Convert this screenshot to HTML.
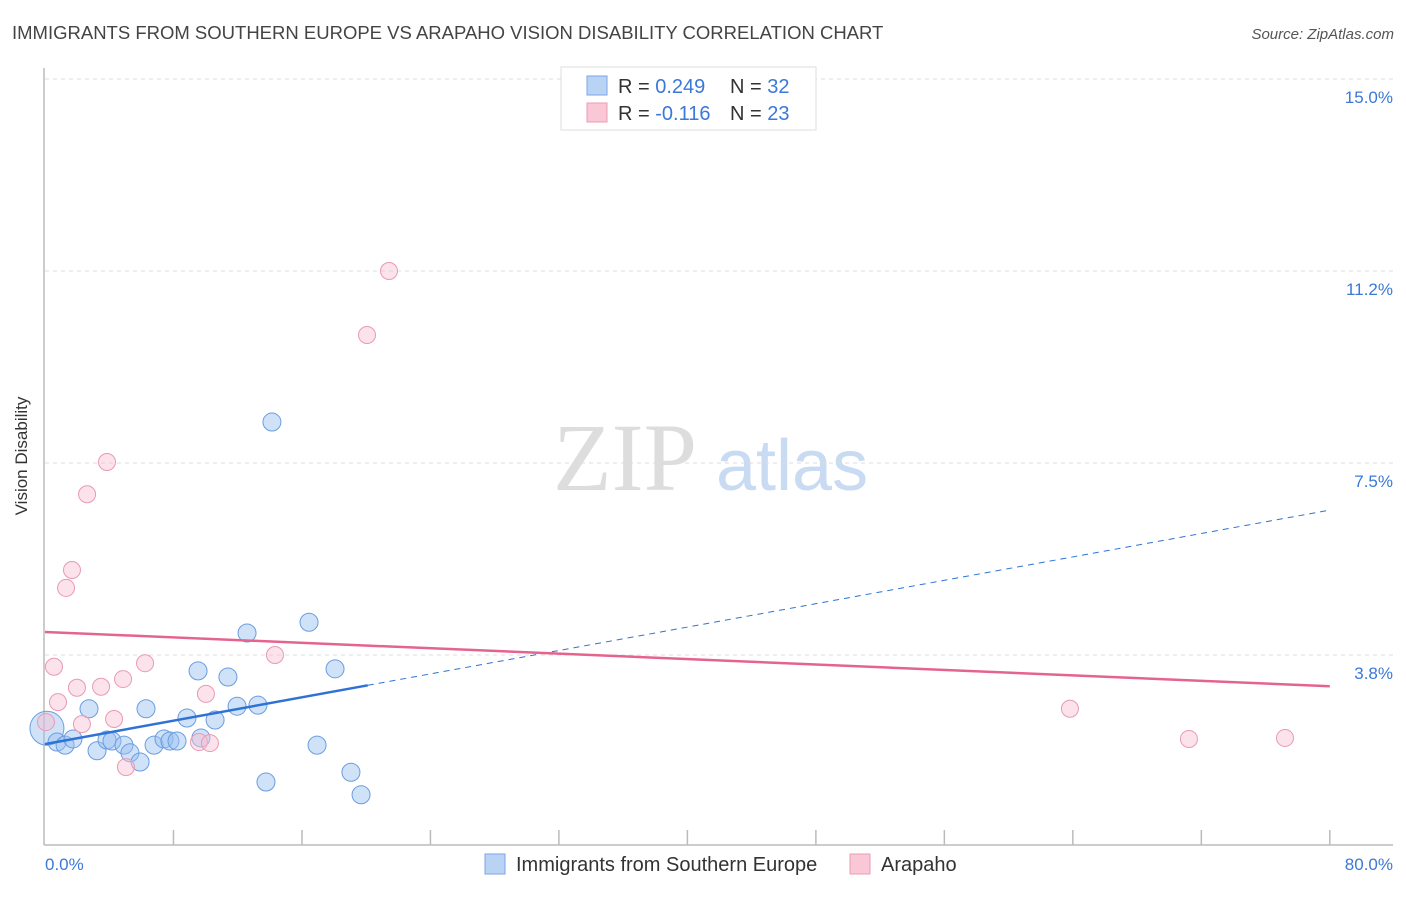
<!DOCTYPE html>
<html><head><meta charset="utf-8"><style>
body{margin:0;background:#fff;font-family:"Liberation Sans",sans-serif}
svg text{font-family:"Liberation Sans",sans-serif}
</style></head><body>
<svg width="1406" height="892" viewBox="0 0 1406 892" xmlns="http://www.w3.org/2000/svg">
<text x="12" y="39" font-size="18.5" fill="#444">IMMIGRANTS FROM SOUTHERN EUROPE VS ARAPAHO VISION DISABILITY CORRELATION CHART</text>
<text x="1394" y="39" font-size="15" fill="#555" font-style="italic" text-anchor="end">Source: ZipAtlas.com</text>
<text x="553" y="490" font-size="96" fill="#ddd" style="font-family:'Liberation Serif',serif">ZIP</text>
<text x="716" y="490" font-size="72" fill="#c8dbf3">atlas</text>
<g id="grid"></g>
<line x1="44" y1="68" x2="44" y2="845" stroke="#bbb" stroke-width="1.5"/>
<line x1="44" y1="845" x2="1393" y2="845" stroke="#bbb" stroke-width="1.5"/>
<g id="xticks"></g>
<text x="27" y="456" font-size="17" fill="#333" text-anchor="middle" transform="rotate(-90 27 456)">Vision Disability</text>
<text x="45" y="870" font-size="17" fill="#3b78d8">0.0%</text>
<text x="1393" y="870" font-size="17" fill="#3b78d8" text-anchor="end">80.0%</text>
<g id="pts"></g>
<g id="trends"></g>
<g>
<rect x="561" y="67" width="255" height="63" fill="#fff" stroke="#ddd"/>
<rect x="587" y="76" width="20" height="19" fill="#b9d3f5" stroke="#7aa6e6"/>
<rect x="587" y="103" width="20" height="19" fill="#f9c7d6" stroke="#ec9cb5"/>
<text x="618" y="93" font-size="20" fill="#333">R = <tspan fill="#3b78d8">0.249</tspan><tspan x="730">N = </tspan><tspan fill="#3b78d8">32</tspan></text>
<text x="618" y="120" font-size="20" fill="#333">R = <tspan fill="#3b78d8">-0.116</tspan><tspan x="730">N = </tspan><tspan fill="#3b78d8">23</tspan></text>
</g>
<rect x="485" y="854" width="20" height="20" fill="#b9d3f5" stroke="#7aa6e6"/>
<text x="516" y="871" font-size="20" fill="#333">Immigrants from Southern Europe</text>
<rect x="850" y="854" width="20" height="20" fill="#f9c7d6" stroke="#ec9cb5"/>
<text x="881" y="871" font-size="20" fill="#333">Arapaho</text>
</svg>
<script>
const yTicks=[3.75,7.5,11.25,15];
const yTickLabels=["3.8%","7.5%","11.2%","15.0%"];
const xTicks=[8,16,24,32,40,48,56,64,72,80];
const blueX=[0.12,0.75,1.25,1.74,2.74,3.24,3.86,4.17,4.92,5.29,5.92,6.29,6.79,7.41,7.78,8.22,8.84,9.53,9.71,10.59,11.39,11.96,12.58,13.26,13.76,14.13,16.44,16.94,18.06,19.05,19.68];
const blueY=[2.32,2.05,1.99,2.11,2.70,1.88,2.09,2.07,1.99,1.84,1.66,2.70,1.99,2.11,2.07,2.07,2.52,3.44,2.13,2.48,3.32,2.75,4.18,2.77,1.27,8.30,4.39,1.99,3.48,1.46,1.02];
const pinkX=[0.06,0.81,0.56,1.31,1.68,1.99,2.30,2.62,3.49,3.86,4.30,4.86,5.04,6.23,9.59,10.02,10.27,14.32,20.05,21.42,63.82,71.23,77.21];
const pinkY=[2.44,2.83,3.52,5.06,5.41,3.11,2.40,6.89,3.13,7.52,2.50,3.28,1.56,3.59,2.05,2.99,2.03,3.75,10.0,11.25,2.70,2.11,2.13];
const blueTrend=[2.01,6.58];
const pinkTrend=[4.20,3.14];
const blueSolidEnd=20.1;
const NS="http://www.w3.org/2000/svg";
const X=v=>45+v*16.06, Y=v=>847-v*51.2;
function mk(t,a,p){const e=document.createElementNS(NS,t);for(const k in a)e.setAttribute(k,a[k]);document.getElementById(p).appendChild(e);return e;}
yTicks.forEach((t,i)=>{
 const g=mk('line',{x1:45,x2:1393,y1:Y(t),y2:Y(t),stroke:'#ddd','stroke-dasharray':'4,4'},'grid');
 
 
 const l=mk('text',{x:1393,y:Y(t)+24,'font-size':17,fill:'#3b78d8','text-anchor':'end'},'grid');
 l.textContent=yTickLabels[i];
 
 
});
xTicks.forEach(t=>{
 const e=mk('line',{x1:X(t),x2:X(t),y1:830,y2:845,stroke:'#bbb','stroke-width':1.5},'xticks');
 
 
});
blueX.forEach((x,i)=>{
 const c=mk('circle',{cx:X(x),cy:Y(blueY[i]),r:i==0?17:9,fill:'rgba(150,190,240,0.45)',stroke:'#6a9de0','stroke-width':1},'pts');
 
 
});
pinkX.forEach((x,i)=>{
 const c=mk('circle',{cx:X(x),cy:Y(pinkY[i]),r:8.5,fill:'rgba(248,190,210,0.45)',stroke:'#e99ab3','stroke-width':1},'pts');
 
 
});
const bAt=v=>blueTrend[0]+(blueTrend[1]-blueTrend[0])*v/80;
let e=mk('line',{x1:X(0),y1:Y(bAt(0)),x2:X(blueSolidEnd),y2:Y(bAt(blueSolidEnd)),stroke:'#2f72d6','stroke-width':2.5},'trends');


e=mk('line',{x1:X(blueSolidEnd),y1:Y(bAt(blueSolidEnd)),x2:X(80),y2:Y(bAt(80)),stroke:'#2f72d6','stroke-width':1,'stroke-dasharray':'6,5'},'trends');


e=mk('line',{x1:X(0),y1:Y(pinkTrend[0]),x2:X(80),y2:Y(pinkTrend[1]),stroke:'#e5648e','stroke-width':2.5},'trends');


</script>
</body></html>
